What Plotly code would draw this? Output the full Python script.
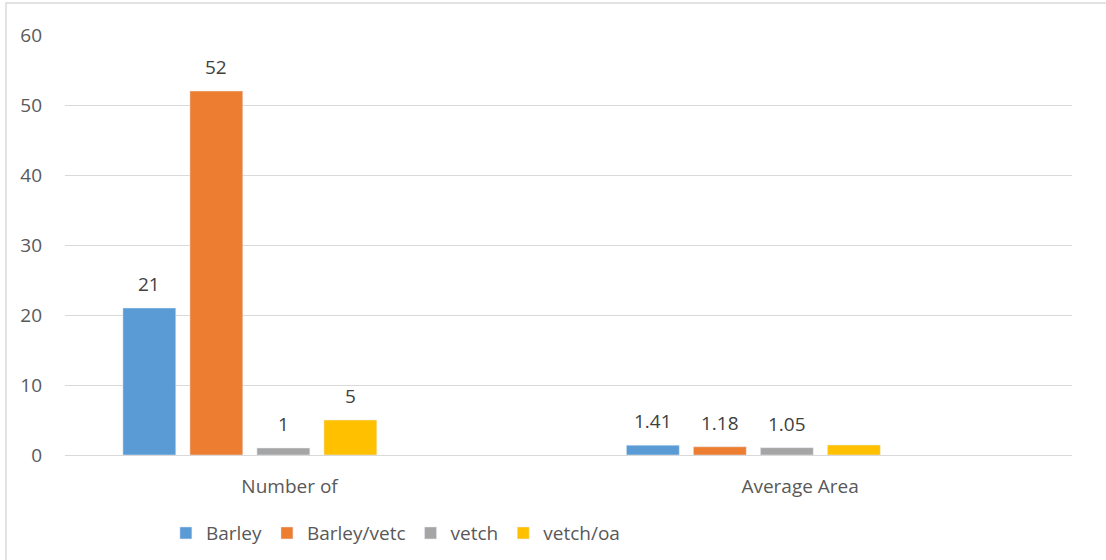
import plotly.graph_objects as go

categories = ["Number of", "Average Area"]
series_names = ["Barley", "Barley/vetc", "vetch", "vetch/oa"]
series_values = [
    [21, 1.41],
    [52, 1.18],
    [1, 1.05],
    [5, 1.43],
]
label_texts = [
    ["21", "1.41"],
    ["52", "1.18"],
    ["1", "1.05"],
    ["5", ""],
]
colors = ["#5B9BD5", "#ED7D31", "#A5A5A5", "#FFC000"]
y_ticks = [0, 10, 20, 30, 40, 50, 60]

# layout constants (6 slots per category in the source chart)
bar_w = 0.105
step = 0.1331
first_off = -0.385
label_shift = [-0.054, -0.04]
FONT = "Open Sans"
FS = 19

fig = go.Figure()
xs = list(range(len(categories)))
for i, (name, vals) in enumerate(zip(series_names, series_values)):
    off = first_off + i * step
    fig.add_trace(go.Bar(
        x=xs, y=vals, name=name, marker_color=colors[i],
        width=bar_w, offset=off,
        hoverinfo="name+y",
    ))
    for xi, v, t in zip(xs, vals, label_texts[i]):
        if t:
            fig.add_annotation(
                x=xi + off + bar_w / 2, y=v, text=t, showarrow=False,
                yanchor="bottom", yshift=9,
                font=dict(family=FONT, size=FS, color="#404040"),
            )

fig.add_shape(
    type="rect", xref="paper", yref="paper",
    x0=-0.0586, x1=1.2, y0=-0.5, y1=1.0762,
    line=dict(color="#D9D9D9", width=1.5), fillcolor="rgba(0,0,0,0)",
    layer="below",
)

fig.update_layout(
    width=1106, height=560,
    margin=dict(l=65, r=34, t=35, b=105, autoexpand=False),
    paper_bgcolor="white", plot_bgcolor="white",
    barmode="overlay",
    showlegend=True,
    legend=dict(
        orientation="h", xref="container", x=0.15, xanchor="left",
        yref="container", y=0.048, yanchor="middle",
        font=dict(family=FONT, size=FS, color="#595959"),
        itemwidth=30,
    ),
    font=dict(family=FONT, size=FS, color="#595959"),
    xaxis=dict(
        range=[-0.5, 1.5],
        tickmode="array",
        tickvals=[x + s for x, s in zip(xs, label_shift)],
        ticktext=categories,
        showgrid=False, zeroline=False, showline=False, ticks="",
        ticklabelstandoff=18,
        tickfont=dict(family=FONT, size=FS, color="#595959"),
        fixedrange=True,
    ),
    yaxis=dict(
        range=[0, 60],
        tickvals=y_ticks,
        showgrid=True, gridcolor="#D9D9D9", gridwidth=1,
        zeroline=True, zerolinecolor="#D9D9D9", zerolinewidth=1,
        showline=False, ticks="", ticklabelstandoff=22,
        tickfont=dict(family=FONT, size=FS, color="#595959"),
    ),
)

fig.write_html("out.html")
